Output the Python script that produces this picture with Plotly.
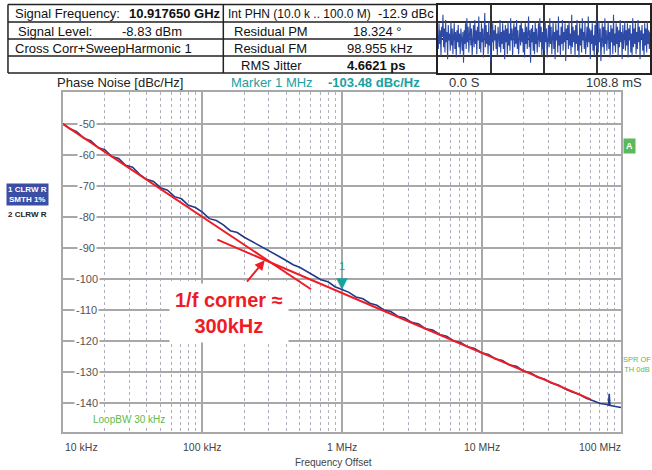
import math
import plotly.graph_objects as go

W, H = 652, 470
def X(px): return px / W
def Y(py): return 1 - py / H

FONT = "Liberation Sans, Arial, sans-serif"
TEAL = "#1aa0a0"
GREEN = "#5cbb4b"
RED = "#ee1c25"
NAVY = "#22398a"

# ---------------- data ----------------
freq_khz = [10, 11.22, 12.59, 14.13, 15.85, 17.78, 19.95, 22.39, 25.12, 28.18,
            31.62, 35.48, 39.81, 44.67, 50.12, 56.23, 63.10, 70.79, 79.43, 89.13,
            100, 112.2, 125.9, 141.3, 158.5, 177.8, 199.5, 223.9, 251.2, 281.8,
            316.2, 354.8, 398.1, 446.7, 501.2, 562.3, 631.0, 707.9, 794.3, 891.3,
            1000, 1122, 1259, 1413, 1585, 1778, 1995, 2239, 2512, 2818,
            3162, 3548, 3981, 4467, 5012, 5623, 6310, 7079, 7943, 8913,
            10000, 11220, 12590, 14130, 15850, 17780, 19950, 22390, 25120, 28180,
            31620, 35480, 39810, 44670, 50120, 56230, 63100, 70790, 79430,
            81300, 82200, 83200, 89130, 100000]
pn_dbc = [-49.9, -51.6, -52.5, -54.6, -55.4, -57.6, -58.3, -60.5, -61.2, -63.4,
          -64.0, -66.3, -67.9, -68.6, -70.6, -71.4, -73.5, -74.2, -76.3, -77.0,
          -78.5, -80.6, -81.2, -82.6, -84.5, -85.1, -86.6, -87.8, -89.0, -90.4,
          -91.6, -92.8, -94.1, -95.5, -96.4, -97.7, -98.8, -100.3, -101.0, -102.6,
          -103.48, -104.4, -105.9, -106.5, -107.9, -108.6, -110.1, -110.6, -112.1, -112.7,
          -114.1, -114.6, -116.2, -116.6, -118.0, -118.6, -120.1, -120.6, -122.0, -122.5,
          -123.9, -124.5, -125.9, -126.4, -127.9, -128.3, -129.8, -130.4, -131.8, -132.4,
          -133.7, -134.3, -135.6, -136.6, -137.3, -138.6, -139.4, -140.3, -140.6,
          -140.8, -137.2, -140.9, -141.2, -141.6]

fit_flicker_khz = [10, 600]
fit_flicker_dbc = [-50.0, -103.4]
fit_thermal_khz = [128, 60000]
fit_thermal_dbc = [-87.4, -138.9]

corner_khz = 300
corner_dbc = -94.3
marker_khz = 1000
marker_dbc = -103.48
loopbw_khz = 30

y_ticks = [-50, -60, -70, -80, -90, -100, -110, -120, -130, -140]
x_tick_khz = [10, 100, 1000, 10000, 100000]
x_tick_text = ["10 kHz", "100 kHz", "1 MHz", "10 MHz", "100 MHz"]

wave = [0.2, -0.6, 0.9, -0.3, 0.5, -1.0, 0.7, 0.1, 1.4, -0.5,
        0.6, -0.8, 1.1, -0.2, 0.4, -1.2, 0.8, -0.1, 0.3, -0.7,
        1.0, -0.4, 0.6, -0.9, 0.2, 0.9, -0.6, 0.4, -1.1, 0.5,
        -0.2, 0.8, -0.5, 0.3, -0.9, 0.6, 0.0, -0.7, 0.4, -1.4,
        0.5, -0.3, 0.9, -0.6, 1.2, -0.2, 0.7, -0.8, 0.3, 1.0,
        -0.4, 0.6, -1.0, 0.2, 0.8, -0.5, 1.1, -0.3, 0.5, -0.9,
        0.7, -0.1, 1.3, -0.6, 0.4, -0.8, 0.9, -0.2, 0.6, -1.1,
        0.3, 1.5, -0.5, 0.8, -0.3, 0.4, -0.9, 1.0, -0.4, 0.2,
        -1.3, 0.6, -0.2, 0.9, -0.7, 0.5, -0.1, 0.8, -0.6, 0.3,
        -1.0, 0.7, 0.1, -0.5, 1.1, -0.8, 0.4, -0.3, 0.9, -0.6,
        0.5, -1.2, 0.8, -0.2, 0.6, -0.9, 1.0, -0.4, 0.3, -0.7,
        1.2, -0.1, 0.6, -1.0, 0.4, 0.9, -0.5, 0.7, -0.3, 1.1,
        -0.6, 0.5, -0.9, 0.3, 0.8, -0.4, 1.0, -0.2, 0.6, -0.8,
        0.4, -1.1, 0.9, -0.3, 0.7, -0.6, 0.2, 1.3, -0.5, 0.5,
        -1.4, 0.6, -0.2, 0.8, -0.7, 0.4, -0.9, 1.0, -0.3, 0.6,
        -0.8, 0.3, 0.9, -0.5, 1.2, -0.2, 0.7, -1.0, 0.4, -0.6,
        0.5, -0.7, 1.0, -0.2, 0.6, -1.1, 0.3, 0.8, -0.5, 1.2,
        -0.3, 0.7, -0.9, 0.1, 1.0, -0.6, 0.4, -1.2, 0.9, -0.1,
        0.5, -0.8, 1.3, -0.4, 0.2, -1.0, 0.7, -0.3, 1.1, -0.7,
        0.4, -0.2, 0.9, -1.3, 0.6, 0.0, 0.8, -0.6, 1.0, -0.4,
        0.3, -0.9, 1.4, -0.5, 0.7, -0.2, 0.5, -1.0, 0.8, -0.3,
        1.1, -0.7, 0.2, -1.1, 0.9, -0.4, 0.6, -0.8, 1.2, -0.1,
        0.4, -0.6, 1.0, -0.9, 0.3, 0.7, -0.5, 1.3, -0.2, 0.6,
        -1.2, 0.5, -0.3, 0.9, -0.7, 0.2, -1.0, 0.8, -0.4, 1.1,
        -0.6, 0.3, -0.8, 1.0, -0.2, 0.6, -1.3, 0.4, 0.9, -0.5,
        0.7, -0.9, 1.2, -0.3, 0.5, -0.7, 0.1, 1.0, -0.6, 0.4,
        -1.1, 0.8, -0.2, 0.6, -0.9, 1.4, -0.4, 0.3, -0.8, 0.9,
        -0.3, 0.7, -1.0, 0.5, -0.5, 1.1, -0.2, 0.4, -1.2, 0.8,
        -0.6, 0.2, 1.0, -0.7, 0.5, -0.4, 0.9, -1.1, 0.6, -0.1,
        0.8, -0.8, 0.3, -1.0, 1.2, -0.5, 0.6, -0.3, 0.9, -0.9,
        0.4, -0.6, 1.1, -0.2, 0.7, -1.2, 0.5, 0.0, 0.8, -0.7,
        0.3, -1.0, 0.9, -0.4, 0.6, -0.8, 1.0, -0.3, 0.5, -0.6,
        0.4]

# ---------------- figure ----------------
fig = go.Figure()
hz = lambda lst: [v * 1e3 for v in lst]

fig.add_trace(go.Scatter(x=hz(freq_khz), y=pn_dbc, mode="lines",
                         line=dict(color=NAVY, width=1.6)))
fig.add_trace(go.Scatter(x=hz(fit_flicker_khz), y=fit_flicker_dbc, mode="lines",
                         line=dict(color=RED, width=2)))
fig.add_trace(go.Scatter(x=hz(fit_thermal_khz), y=fit_thermal_dbc, mode="lines",
                         line=dict(color=RED, width=2)))
fig.add_trace(go.Scatter(x=list(range(len(wave))), y=wave, mode="lines",
                         xaxis="x2", yaxis="y2",
                         line=dict(color="#2d4ba6", width=1.1)))

fig.update_layout(
    width=W, height=H, margin=dict(l=0, r=0, t=0, b=0),
    paper_bgcolor="white", plot_bgcolor="white", showlegend=False,
    font=dict(family=FONT, size=12, color="#222"),
    xaxis=dict(type="log", range=[4, 8], domain=[X(63), X(623)],
               dtick=1, showgrid=True, gridcolor="#a8a8a8", gridwidth=1.5,
               showticklabels=False, ticks="",
               minor=dict(dtick="D1", showgrid=True, gridcolor="#b0b0bc",
                          griddash="dot", gridwidth=1, ticks=""),
               showline=True, linecolor="#a8a8a8", linewidth=2, mirror=True,
               zeroline=False),
    yaxis=dict(range=[-149.5, -39.7], domain=[Y(432), Y(92)],
               tickmode="array", tickvals=y_ticks, showticklabels=False, ticks="",
               showgrid=True, gridcolor="#a8a8a8", gridwidth=1.5,
               showline=True, linecolor="#a8a8a8", linewidth=2, mirror=True,
               zeroline=False),
    xaxis2=dict(domain=[X(439), 1.0], range=[0, len(wave) - 1],
                dtick=(len(wave) - 1) / 4, showgrid=True, gridcolor="#333",
                gridwidth=1.5, showticklabels=False, ticks="", zeroline=False,
                showline=True, linecolor="#222", linewidth=1.5, mirror=True,
                anchor="y2"),
    yaxis2=dict(domain=[Y(73), Y(4.5)], range=[-2, 2], dtick=1,
                showgrid=True, gridcolor="#333", gridwidth=1.5,
                showticklabels=False, ticks="", zeroline=False,
                showline=True, linecolor="#222", linewidth=1.5, mirror=True,
                anchor="x2"),
)

shapes = []
# table lines
for py in [4.5, 22, 39, 56, 73]:
    shapes.append(dict(type="line", xref="paper", yref="paper",
                       x0=X(8), x1=X(439), y0=Y(py), y1=Y(py),
                       line=dict(color="#222", width=1.5)))
for px in [8, 224]:
    shapes.append(dict(type="line", xref="paper", yref="paper",
                       x0=X(px), x1=X(px), y0=Y(4.5), y1=Y(73),
                       line=dict(color="#222", width=1.5)))
# loop bandwidth line
shapes.append(dict(type="line", xref="x", yref="paper",
                   x0=math.log10(loopbw_khz * 1e3), x1=math.log10(loopbw_khz * 1e3),
                   y0=Y(432), y1=Y(92), line=dict(color=GREEN, width=1.5),
                   layer="below"))
fig.update_layout(shapes=shapes)

ann = []
def txt(px, py, text, size=13, color="#111", xanchor="left", bold=False, **kw):
    if bold:
        text = "<b>" + text + "</b>"
    ann.append(dict(xref="paper", yref="paper", x=X(px), y=Y(py), text=text,
                    showarrow=False, xanchor=xanchor, yanchor="middle",
                    font=dict(family=FONT, size=size, color=color), **kw))

# table text
txt(13, 13.5, "Signal Frequency:")
txt(127, 13.5, "10.917650 GHz", bold=True)
txt(227, 13.5, "Int PHN (10.0 k .. 100.0 M)", size=12)
txt(437, 13.5, "-12.9 dBc", xanchor="right")
txt(16, 31, "Signal Level:")
txt(120, 31, "-8.83 dBm")
txt(233, 31, "Residual PM")
txt(352, 31, "18.324 °")
txt(13, 48, "Cross Corr+SweepHarmonic 1")
txt(233, 48, "Residual FM")
txt(346, 48, "98.955 kHz")
txt(240, 65, "RMS Jitter")
txt(346, 65, "4.6621 ps", bold=True)

# header
txt(55, 83, "Phase Noise [dBc/Hz]", size=13, color="#222")
txt(230, 83, "Marker 1 MHz", size=13, color=TEAL)
txt(327, 83, "-103.48 dBc/Hz", size=13, color=TEAL, bold=True)
txt(448, 83, "0.0 S", size=13, color="#333")
txt(646, 83, "108.8 mS", size=13, color="#333", xanchor="right")

# y tick labels inside plot
for v in y_ticks:
    ann.append(dict(xref="paper", yref="y", x=X(87), y=v, text=str(v),
                    showarrow=False, xanchor="center", yanchor="middle",
                    bgcolor="white", borderpad=1,
                    font=dict(family=FONT, size=11, color="#555")))

# x tick labels
for i, (f, t) in enumerate(zip(x_tick_khz, x_tick_text)):
    xa = "left" if i == 0 else ("right" if i == len(x_tick_khz) - 1 else "center")
    xs = 0 if i == 0 else (2 if i == len(x_tick_khz) - 1 else 0)
    ann.append(dict(xref="x", yref="paper", x=math.log10(f * 1e3), y=Y(447),
                    text=t, showarrow=False, xanchor=xa, yanchor="middle",
                    xshift=xs, font=dict(family=FONT, size=10.5, color="#444")))
txt(335, 462, "Frequency Offset", size=10, color="#444", xanchor="center")

# loop bw label
ann.append(dict(xref="x", yref="paper", x=math.log10(loopbw_khz * 1e3), y=Y(419),
                text="LoopBW 30 kHz", showarrow=False, xanchor="center",
                yanchor="middle", bgcolor="white", borderpad=1,
                font=dict(family=FONT, size=10, color=GREEN)))

# trace labels on the left
txt(28, 194, "<b>1 CLRW R<br>SMTH 1%</b>", size=8, color="white",
    xanchor="center", bgcolor="#3a4fa3", borderpad=1)
txt(28, 214, "2 CLRW R", size=8, color="#222", xanchor="center", bold=True)

# right side labels
txt(631, 146, "<b>A</b>", size=9, color="white", xanchor="center",
    bgcolor="#5cb85c", borderpad=2)
txt(623, 364, "SPR OF<br>TH 0dB", size=7.5, color=GREEN)

# marker
ann.append(dict(xref="x", yref="y", x=math.log10(marker_khz * 1e3), y=marker_dbc,
                text="▼", showarrow=False, xanchor="center", yanchor="bottom",
                yshift=-4, font=dict(family="DejaVu Sans", size=15, color=TEAL)))
ann.append(dict(xref="x", yref="y", x=math.log10(marker_khz * 1e3), y=marker_dbc,
                text="1", showarrow=False, xanchor="center", yanchor="bottom",
                yshift=16, font=dict(family=FONT, size=11, color=TEAL)))

# corner annotation
ann.append(dict(xref="x", yref="y", x=math.log10(corner_khz * 1e3) - 0.03,
                y=corner_dbc + 0.3, text="", showarrow=True, arrowhead=2,
                arrowsize=1, arrowwidth=2, arrowcolor=RED, ax=-19, ay=23))
txt(230, 313, "<b>1/f corner ≈<br>300kHz</b>", size=20, color=RED,
    xanchor="center", bgcolor="white", borderpad=5)

fig.update_layout(annotations=ann)
fig.write_html("out.html")
